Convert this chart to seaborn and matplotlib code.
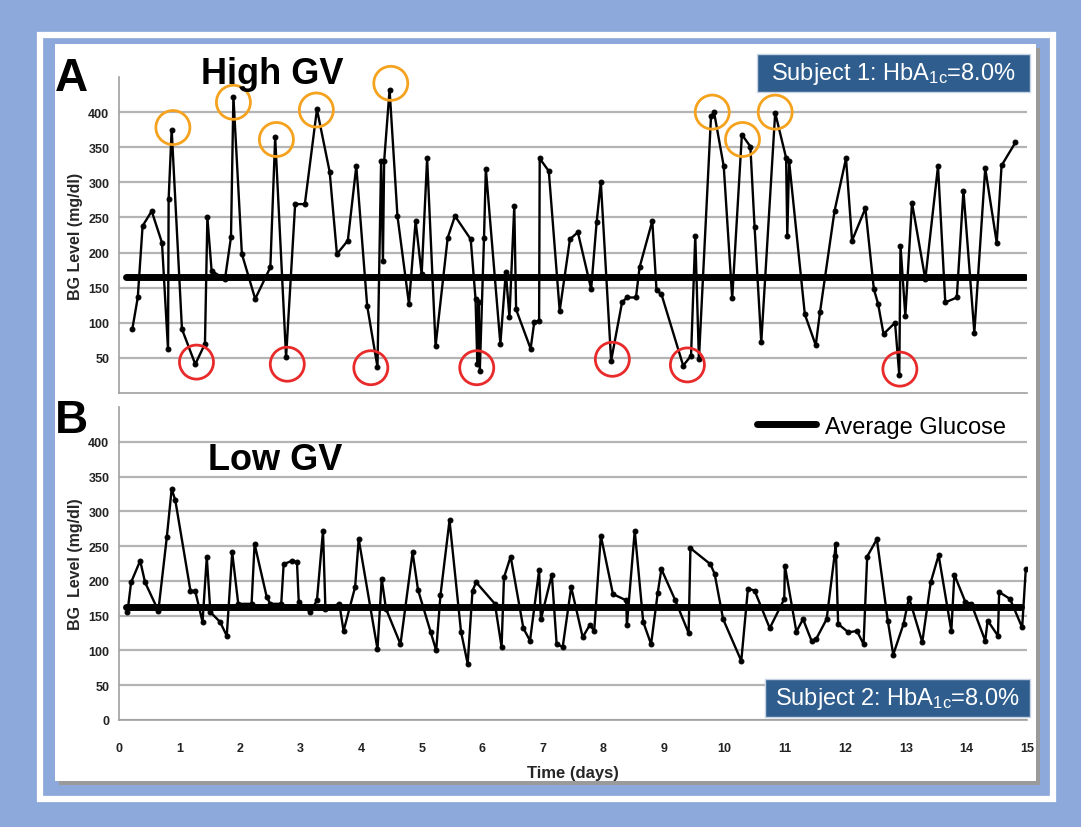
import matplotlib
matplotlib.use('Agg')
import matplotlib.pyplot as plt
from matplotlib.patches import Rectangle
from matplotlib.lines import Line2D
import seaborn as sns

# Dados - Sujeito 1 (alta variabilidade)
high_t = [0.22, 0.31, 0.39, 0.54, 0.71, 0.81, 0.82, 0.87, 1.04, 1.26, 1.42, 1.46, 1.53, 1.75, 1.85,
          1.89, 2.03, 2.25, 2.50, 2.58, 2.76, 2.91, 3.07, 3.27, 3.48, 3.60, 3.78, 3.92, 4.10, 4.27,
          4.33, 4.36, 4.38, 4.47, 4.60, 4.79, 4.90, 5.00, 5.09, 5.23, 5.43, 5.55, 5.81, 5.89, 5.92,
          5.94, 5.96, 6.03, 6.06, 6.30, 6.39, 6.45, 6.53, 6.56, 6.80, 6.86, 6.94, 6.95, 7.10, 7.28,
          7.45, 7.58, 7.80, 7.89, 7.96, 8.13, 8.31, 8.39, 8.54, 8.60, 8.81, 8.88, 8.96, 9.32, 9.45,
          9.52, 9.58, 9.78, 9.83, 9.99, 10.13, 10.29, 10.43, 10.50, 10.61, 10.84, 11.02, 11.04, 11.07,
          11.33, 11.51, 11.58, 11.82, 12.01, 12.11, 12.33, 12.47, 12.54, 12.63, 12.82, 12.89, 12.91,
          12.99, 13.10, 13.32, 13.53, 13.65, 13.84, 13.95, 14.13, 14.31, 14.50, 14.58, 14.81]
high_bg = [91, 136, 238, 259, 214, 62, 276, 375, 91, 41, 70, 250, 174, 162, 222,
           422, 198, 134, 179, 364, 51, 269, 269, 404, 315, 198, 217, 323, 124, 37,
           330, 188, 330, 432, 252, 127, 245, 169, 334, 67, 221, 252, 219, 134, 41,
           130, 31, 221, 319, 70, 172, 108, 266, 119, 63, 101, 103, 334, 316, 117,
           219, 229, 148, 243, 300, 46, 129, 136, 136, 179, 245, 146, 141, 39, 53,
           224, 48, 394, 400, 323, 135, 368, 351, 236, 72, 399, 335, 224, 330,
           112, 68, 115, 259, 334, 217, 263, 148, 127, 84, 100, 26, 210,
           110, 271, 162, 323, 129, 136, 288, 86, 320, 214, 324, 357]
high_avg = 165

# picos (laranja) e hipoglicemias (vermelho) destacados
peak_t = [0.89, 1.89, 2.60, 3.26, 4.49, 9.80, 10.30, 10.84]
peak_bg = [378, 414, 361, 403, 441, 400, 361, 400]
nadir_t = [1.28, 2.78, 4.16, 5.91, 8.15, 9.39, 12.90]
nadir_bg = [44, 41, 36, 36, 48, 40, 34]

# Sujeito 2 (baixa variabilidade)
low_t = [0.14, 0.20, 0.35, 0.43, 0.65, 0.79, 0.87, 0.93, 1.18, 1.26, 1.38, 1.45, 1.51, 1.67, 1.78,
         1.87, 1.97, 2.19, 2.24, 2.44, 2.50, 2.68, 2.72, 2.86, 2.94, 2.97, 3.16, 3.27, 3.37, 3.41,
         3.64, 3.71, 3.90, 3.96, 4.27, 4.34, 4.41, 4.65, 4.85, 4.94, 5.15, 5.24, 5.31, 5.46, 5.65,
         5.76, 5.84, 5.90, 6.21, 6.32, 6.36, 6.47, 6.68, 6.79, 6.94, 6.97, 7.15, 7.23, 7.33, 7.47,
         7.66, 7.78, 7.85, 7.96, 8.16, 8.38, 8.39, 8.52, 8.66, 8.79, 8.90, 8.96, 9.19, 9.41, 9.44,
         9.77, 9.84, 9.98, 10.28, 10.39, 10.50, 10.75, 10.99, 11.00, 11.19, 11.30, 11.44, 11.52,
         11.69, 11.82, 11.84, 11.88, 12.05, 12.19, 12.30, 12.36, 12.52, 12.70, 12.79, 12.96, 13.05,
         13.27, 13.41, 13.54, 13.75, 13.80, 13.98, 14.08, 14.31, 14.35, 14.52, 14.54, 14.72, 14.92, 14.98]
low_bg = [155, 198, 229, 198, 157, 263, 332, 316, 186, 185, 141, 234, 155, 141, 121,
          241, 167, 167, 253, 177, 167, 167, 224, 229, 227, 169, 155, 172, 272, 160,
          167, 128, 191, 260, 102, 203, 160, 109, 241, 187, 126, 100, 179, 287, 127,
          81, 186, 198, 167, 105, 205, 235, 132, 114, 215, 145, 209, 109, 105, 191,
          119, 137, 128, 265, 181, 172, 136, 272, 141, 109, 183, 217, 172, 125, 247,
          224, 210, 145, 85, 189, 186, 132, 174, 222, 127, 145, 114, 117,
          145, 236, 253, 138, 126, 128, 109, 235, 260, 143, 94, 138, 176,
          112, 198, 237, 128, 209, 170, 167, 114, 143, 121, 184, 174, 133, 217]
low_avg = 162

y_ticks_high = [50, 100, 150, 200, 250, 300, 350, 400]
y_ticks_low = [0, 50, 100, 150, 200, 250, 300, 350, 400]
x_ticks = list(range(16))

sns.set_style('white')
plt.rcParams['font.family'] = ['Liberation Sans', 'DejaVu Sans']
plt.rcParams['mathtext.default'] = 'regular'
plt.rcParams['text.color'] = 'black'

W, H = 1081, 828
fig = plt.figure(figsize=(W / 100, H / 100), dpi=100)
fig.patch.set_facecolor('#8DA9DB')


def box(x0, y0, x1, y1):  # pixels -> fracao da figura
    return [x0 / W, 1 - y1 / H, (x1 - x0) / W, (y1 - y0) / H]


# moldura branca fina + painel branco com sombra
b = box(40, 36, 1053, 800)
fig.patches.append(Rectangle((b[0], b[1]), b[2], b[3], transform=fig.transFigure,
                             fill=False, edgecolor='white', lw=4.5, zorder=-3))
b = box(59, 49, 1040, 786)
fig.patches.append(Rectangle((b[0], b[1]), b[2], b[3], transform=fig.transFigure,
                             facecolor='#9a9a9a', edgecolor='none', zorder=-2))
b = box(55, 45, 1036, 782)
fig.patches.append(Rectangle((b[0], b[1]), b[2], b[3], transform=fig.transFigure,
                             facecolor='white', edgecolor='none', zorder=-1))

ax1 = fig.add_axes(box(119, 78, 1027, 394))
ax2 = fig.add_axes(box(119, 408, 1027, 721))

for ax, yt in [(ax1, y_ticks_high), (ax2, y_ticks_low)]:
    ax.set_facecolor('none')
    ax.set_xlim(0, 15)
    ax.set_ylim(0, 450)
    ax.set_yticks(yt)
    ax.set_xticks(x_ticks)
    ax.yaxis.grid(True, color='#b4b4b4', lw=1.6)
    ax.set_axisbelow(True)
    for s in ['top', 'right']:
        ax.spines[s].set_visible(False)
    for s in ['left', 'bottom']:
        ax.spines[s].set_color('#a0a0a0')
        ax.spines[s].set_linewidth(1.2)
    ax.tick_params(axis='both', direction='out', length=4, width=1, color='#a0a0a0',
                   labelsize=9, labelcolor='#222222')
    ax.tick_params(axis='y', pad=3)
    ax.tick_params(axis='x', pad=12)
    for lbl in ax.get_yticklabels() + ax.get_xticklabels():
        lbl.set_fontweight('bold')

ax1.set_xticklabels([])

# séries
sns.lineplot(x=high_t, y=high_bg, ax=ax1, color='black', lw=1.7, marker='o', markersize=3.5,
             markeredgecolor='black', sort=False, estimator=None, zorder=3)
sns.lineplot(x=low_t, y=low_bg, ax=ax2, color='black', lw=1.7, marker='o', markersize=3.5,
             markeredgecolor='black', sort=False, estimator=None, zorder=3)

# médias
ax1.plot([min(high_t) - 0.1, max(high_t) + 0.16], [high_avg, high_avg], color='black', lw=5, zorder=4)
ax2.plot([min(low_t) - 0.03, max(low_t) - 0.08], [low_avg, low_avg], color='black', lw=5, zorder=4)

# círculos
ax1.scatter(peak_t, peak_bg, s=600, facecolors='none', edgecolors='#F5A21E', linewidths=2,
            zorder=5, clip_on=False)
ax1.scatter(nadir_t, nadir_bg, s=600, facecolors='none', edgecolors='#E82A2A', linewidths=2,
            zorder=5, clip_on=False)

ax1.set_ylabel('BG Level (mg/dl)', fontsize=11.5, fontweight='bold', labelpad=4)
ax2.set_ylabel('BG  Level (mg/dl)', fontsize=11.5, fontweight='bold', labelpad=4)
ax2.set_xlabel('Time (days)', fontsize=12, fontweight='bold', labelpad=8)

# legenda
h = Line2D([], [], color='black', lw=5)
ax2.legend([h], ['Average Glucose'], loc='upper right', bbox_to_anchor=(1.0, 1.04),
           frameon=False, fontsize=17, handlelength=2.5, handletextpad=0.35)

# textos
fig.text(55 / W, 1 - 79 / H, 'A', fontsize=33, fontweight='bold', va='center', ha='left')
fig.text(272 / W, 1 - 74 / H, 'High GV', fontsize=26, fontweight='bold', va='center', ha='center')
fig.text(55 / W, 1 - 421 / H, 'B', fontsize=33, fontweight='bold', va='center', ha='left')
fig.text(275 / W, 1 - 461 / H, 'Low GV', fontsize=26, fontweight='bold', va='center', ha='center')

for (x0, y0, x1, y1), txt in [((757, 55, 1030, 93), 'Subject 1: HbA$_{1c}$=8.0%'),
                              ((765, 680, 1030, 718), 'Subject 2: HbA$_{1c}$=8.0%')]:
    b = box(x0, y0, x1, y1)
    fig.patches.append(Rectangle((b[0], b[1]), b[2], b[3], transform=fig.transFigure,
                                 facecolor='#2E5D8E', edgecolor='#c8d4e4', lw=1, zorder=6))
    fig.text((x0 + x1) / 2 / W, 1 - (y0 + y1) / 2 / H, txt, color='white', fontsize=17,
             va='center', ha='center', zorder=7)

plt.savefig('out.png', dpi=100, facecolor=fig.get_facecolor())
